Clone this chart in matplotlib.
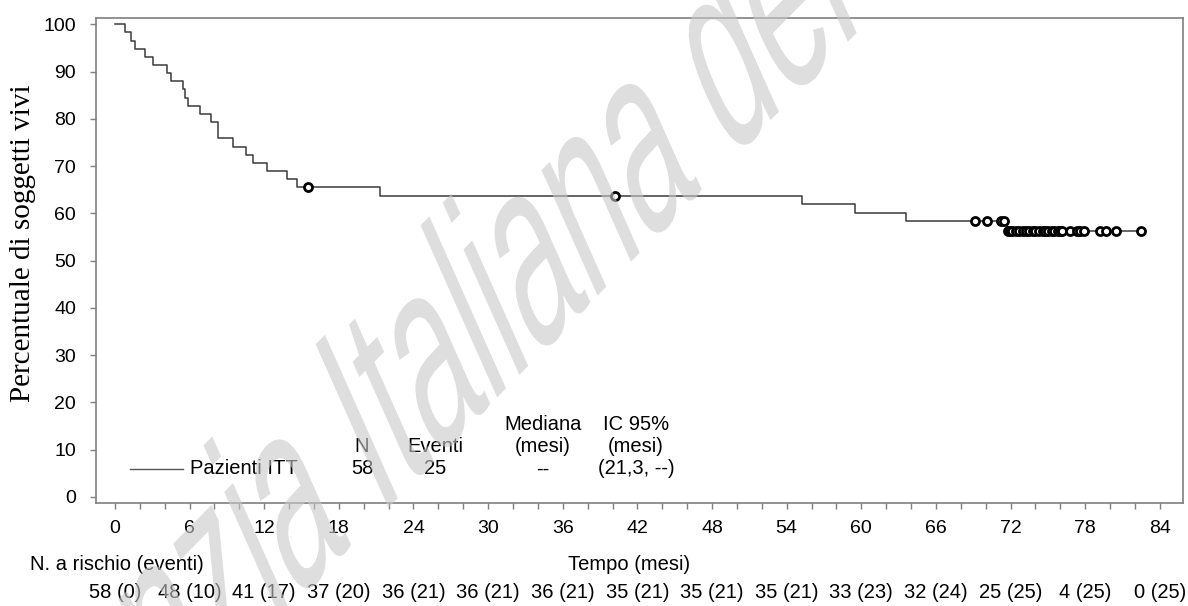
import numpy as np
import matplotlib
matplotlib.use("Agg")
import matplotlib.pyplot as plt
import matplotlib.transforms as mtransforms
from matplotlib.textpath import TextPath
from matplotlib.patches import PathPatch
from matplotlib.font_manager import FontProperties
from matplotlib.lines import Line2D

# ---------------- data ----------------
event_times = [0.81, 1.27, 1.62, 2.42, 3.09, 4.21, 4.51, 5.45, 5.64, 5.85,
               6.84, 7.70, 8.31, 8.31, 9.47, 10.54, 11.13, 12.2, 13.86, 14.61,
               21.3, 55.2, 59.5, 63.6, 71.7]
censor_times = [15.5, 40.2, 69.1, 70.1, 71.2, 71.5,
                71.8, 71.95, 72.1, 72.4, 72.7, 73.0, 73.2, 73.5, 73.8, 74.0,
                74.3, 74.6, 74.8, 75.0, 75.3, 75.5, 75.8, 76.0, 76.1,
                76.8, 77.3, 77.6, 77.9, 79.2, 79.7, 80.5, 82.5]

risk_times = [0, 6, 12, 18, 24, 30, 36, 42, 48, 54, 60, 66, 72, 78, 84]
n_at_risk = [58, 48, 41, 37, 36, 36, 36, 35, 35, 35, 33, 32, 25, 4, 0]
n_events = [0, 10, 17, 20, 21, 21, 21, 21, 21, 21, 23, 24, 25, 25, 25]

y_ticks = [0, 10, 20, 30, 40, 50, 60, 70, 80, 90, 100]

legend_header_top = ["", "", "Mediana", "IC 95%"]
legend_header_bottom = ["N", "Eventi", "(mesi)", "(mesi)"]
legend_group = "Pazienti ITT"
legend_values = ["58", "25", "--", "(21,3, --)"]

ylabel_text = "Percentuale di soggetti vivi"
xlabel_text = "Tempo (mesi)"
risk_title = "N. a rischio (eventi)"
watermark_text = "Agenzia Italiana del Farmaco"

# ---------------- Kaplan-Meier estimate ----------------
def kaplan_meier(events, censors):
    t_all = np.array(events + censors, dtype=float)
    d_all = np.array([1] * len(events) + [0] * len(censors))
    xs, ys, s = [0.0], [100.0], 1.0
    for t in sorted(set(events)):
        r = np.sum(t_all >= t)
        d = np.sum((t_all == t) & (d_all == 1))
        s *= (1 - d / r)
        xs.append(t)
        ys.append(100 * s)
    xs.append(t_all.max())
    ys.append(100 * s)
    return np.array(xs), np.array(ys)

km_x, km_y = kaplan_meier(event_times, censor_times)
idx = np.searchsorted(km_x[:-1], censor_times, side="right") - 1
cens_y = km_y[idx]

# ---------------- figure ----------------
W, H = 1188, 606
fig = plt.figure(figsize=(W / 100, H / 100), dpi=100)
fig.patch.set_facecolor("white")

L, R, T, B = 96, 1183, 18, 503
ax = fig.add_axes([L / W, (H - B) / H, (R - L) / W, (B - T) / H])

ax.step(km_x, km_y, where="post", color="#3a3a3a", lw=1.1, zorder=3)
ax.plot(censor_times, cens_y, "o", ls="none", ms=5.8, mfc="white",
        mec="black", mew=2.0, zorder=4)

ax.set_xlim(-1.52, 85.86)
ax.set_ylim(-1.27, 101.33)
ax.set_xticks(risk_times)
ax.set_xticks(np.arange(0, 85, 2), minor=True)
ax.set_yticks(y_ticks)

spine_col = "#7f7f7f"
for sp in ax.spines.values():
    sp.set_color(spine_col)
    sp.set_linewidth(1.2)
ax.tick_params(which="both", direction="out", color=spine_col, width=1.0)
ax.tick_params(axis="x", which="both", length=4.0, labelsize=14, pad=8)
ax.tick_params(axis="y", length=4.3, labelsize=14, pad=10)
for lab in ax.get_xticklabels() + ax.get_yticklabels():
    lab.set_family("Liberation Sans")

ax.set_ylabel(ylabel_text, family="Liberation Serif", fontsize=21, va="center")
ax.yaxis.set_label_coords((23 - L) / (R - L), (B - 243) / (B - T))
ax.set_xlabel(xlabel_text, family="Liberation Sans", fontsize=14.5, va="center")
ax.xaxis.set_label_coords((629 - L) / (R - L), (B - 564) / (B - T))

fig.text(30 / W, 1 - 564 / H, risk_title, family="Liberation Sans",
         fontsize=14.5, ha="left", va="center")

risk_trans = mtransforms.blended_transform_factory(ax.transData, ax.transAxes)
for t, n, e in zip(risk_times, n_at_risk, n_events):
    ax.text(t, (B - 593) / (B - T), f"{n} ({e})", transform=risk_trans,
            family="Liberation Sans", fontsize=14.5, ha="center", va="center",
            clip_on=False)

# ---------------- legend table ----------------
def axfrac(px, py):
    return (px - L) / (R - L), (B - py) / (B - T)

ax.add_line(Line2D([axfrac(130, 0)[0], axfrac(183, 0)[0]],
                   [axfrac(0, 469)[1]] * 2, transform=ax.transAxes,
                   color="#555555", lw=1.0))
x0, y0 = axfrac(190, 469)
ax.text(x0, y0, legend_group, transform=ax.transAxes, family="Liberation Sans",
        fontsize=14.5, ha="left", va="center")
col_x = [362, 435, 543, 636]
for cx, h1, h2, val in zip(col_x, legend_header_top, legend_header_bottom,
                           legend_values):
    xa, yv = axfrac(cx, 469)
    _, y2 = axfrac(cx, 447)
    _, y1 = axfrac(cx, 424)
    for yy, s in ((yv, val), (y2, h2), (y1, h1)):
        if s:
            ax.text(xa, yy, s, transform=ax.transAxes,
                    family="Liberation Sans", fontsize=14.5,
                    ha="center", va="center")

# ---------------- watermark (sheared, rotated text) ----------------
fp = FontProperties(family="Liberation Sans", weight="normal")
tp = TextPath((0, 0), watermark_text, size=1, prop=fp)
Bv = np.array([100.1, 101.5])       # baseline vector per em (display px)
Uv = np.array([-105.8, 237.5])      # up vector per em (display px)
O_I = np.array([379.1, H - 517.1])  # origin of the "I" of Italiana
O = O_I - 3.891 * Bv
wm_tr = mtransforms.Affine2D(np.array([[Bv[0], Uv[0], O[0]],
                                       [Bv[1], Uv[1], O[1]],
                                       [0, 0, 1]]))
wm = PathPatch(tp, transform=wm_tr, facecolor="#c8c8c8", edgecolor="none",
               alpha=0.6, zorder=20)
fig.add_artist(wm)

fig.savefig("out.png", dpi=100)
